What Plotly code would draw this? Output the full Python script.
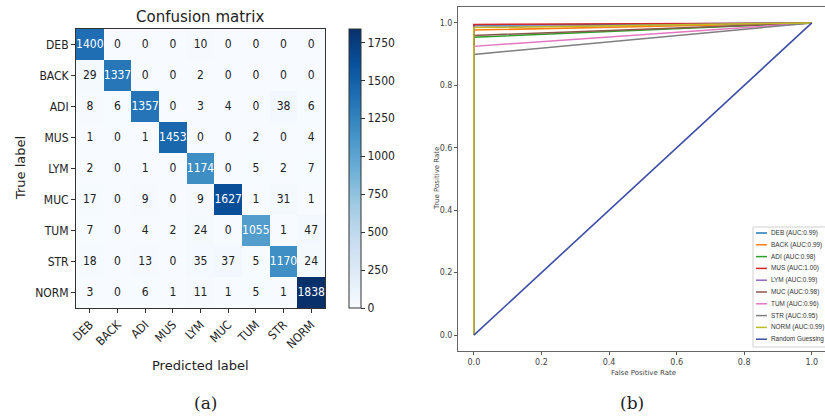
import plotly.graph_objects as go

labels = ["DEB", "BACK", "ADI", "MUS", "LYM", "MUC", "TUM", "STR", "NORM"]
cm = [
    [1400, 0, 0, 0, 10, 0, 0, 0, 0],
    [29, 1337, 0, 0, 2, 0, 0, 0, 0],
    [8, 6, 1357, 0, 3, 4, 0, 38, 6],
    [1, 0, 1, 1453, 0, 0, 2, 0, 4],
    [2, 0, 1, 0, 1174, 0, 5, 2, 7],
    [17, 0, 9, 0, 9, 1627, 1, 31, 1],
    [7, 0, 4, 2, 24, 0, 1055, 1, 47],
    [18, 0, 13, 0, 35, 37, 5, 1170, 24],
    [3, 0, 6, 1, 11, 1, 5, 1, 1838],
]
cbar_ticks = [0, 250, 500, 750, 1000, 1250, 1500, 1750]

# ROC (b): step height at FPR=0, AUC from legend
tpr_at_zero = [0.993, 0.977, 0.954, 0.995, 0.986, 0.960, 0.925, 0.899, 0.985]
auc_text = ["0.99", "0.99", "0.98", "1.00", "0.99", "0.98", "0.96", "0.95", "0.99"]
roc_colors = ["#1f77b4", "#ff7f0e", "#2ca02c", "#d62728", "#9467bd",
              "#8c564b", "#e377c2", "#7f7f7f", "#bcbd22"]
random_color = "#3d4ea6"
roc_ticks = [0.0, 0.2, 0.4, 0.6, 0.8, 1.0]

W, H = 825, 418
def px(x): return x / W
def py(y): return 1 - y / H

blues = [[0.0, "rgb(247,251,255)"], [0.125, "rgb(222,235,247)"], [0.25, "rgb(198,219,239)"],
         [0.375, "rgb(158,202,225)"], [0.5, "rgb(107,174,214)"], [0.625, "rgb(66,146,198)"],
         [0.75, "rgb(33,113,181)"], [0.875, "rgb(8,81,156)"], [1.0, "rgb(8,48,107)"]]

cmfont = "DejaVu Sans Condensed, DejaVu Sans"
zmax = max(max(r) for r in cm)
fig = go.Figure()
fig.add_trace(go.Heatmap(
    z=cm, x=labels, y=labels, colorscale=blues, zmin=0, zmax=zmax,
    xaxis="x", yaxis="y", hoverinfo="skip", showscale=True,
    colorbar=dict(x=px(349), xanchor="left", xpad=0, ypad=0, thickness=12, thicknessmode="pixels",
                  len=(308 - 29) / H, lenmode="fraction", y=(py(29) + py(308)) / 2,
                  yanchor="middle", outlinewidth=1, outlinecolor="#333",
                  tickvals=cbar_ticks, ticks="outside", ticklen=4, tickcolor="#333",
                  tickfont=dict(size=12, color="#222", family=cmfont)),
))
tx, ty, tt, tc = [], [], [], []
for i, row in enumerate(cm):
    for j, v in enumerate(row):
        tx.append(labels[j]); ty.append(labels[i]); tt.append(str(v))
        tc.append("white" if v > zmax / 2 else "#222")
fig.add_trace(go.Scatter(x=tx, y=ty, text=tt, mode="text", xaxis="x", yaxis="y",
                         textfont=dict(color=tc, size=12, family=cmfont),
                         showlegend=False, hoverinfo="skip"))

legend_names = [f"{lab} (AUC:{auc_text[k]})" for k, lab in enumerate(labels)] + ["Random Guessing"]
legend_colors = roc_colors + [random_color]

for k, lab in enumerate(labels):
    fig.add_trace(go.Scatter(x=[0, 0, 1], y=[0, tpr_at_zero[k], 1], mode="lines",
                             line=dict(color=roc_colors[k], width=1.5),
                             name=legend_names[k], xaxis="x2", yaxis="y2", showlegend=False))
fig.add_trace(go.Scatter(x=[0, 1], y=[0, 1], mode="lines", line=dict(color=random_color, width=1.6),
                         name="Random Guessing", xaxis="x2", yaxis="y2", showlegend=False))

# compact matplotlib-style legend box (layout only)
shapes = [dict(type="rect", xref="paper", yref="paper", x0=px(753), x1=px(828), y0=py(347), y1=py(227),
               line=dict(color="#d0d0d0", width=1), fillcolor="white", layer="above")]
annotations = []
for k, (nm, col) in enumerate(zip(legend_names, legend_colors)):
    yy = 233 + k * 11.8
    shapes.append(dict(type="line", xref="paper", yref="paper", x0=px(756), x1=px(767),
                       y0=py(yy), y1=py(yy), line=dict(color=col, width=1.5), layer="above"))
    annotations.append(dict(text=nm, x=px(770), y=py(yy), xref="paper", yref="paper", showarrow=False,
                            xanchor="left", yanchor="middle", borderpad=0,
                            font=dict(size=6.4, color="#333", family="Liberation Sans")))

tickfont_cm = dict(size=12, color="#222", family=cmfont)

def ann(text, x, y, size, family="DejaVu Sans", angle=0, color="#222"):
    return dict(text=text, x=px(x), y=py(y), xref="paper", yref="paper", showarrow=False,
                xanchor="center", yanchor="middle", textangle=angle,
                font=dict(size=size, color=color, family=family))

annotations += [
    ann("Confusion matrix", 200, 17, 15),
    ann("True label", 20, 168, 13, angle=-90),
    ann("Predicted label", 200, 365, 13),
    ann("(a)", 205, 403, 17, family="DejaVu Serif"),
    ann("(b)", 632, 403, 17, family="DejaVu Serif"),
    ann("True Positive Rate", 437, 179, 7, angle=-90, color="#444"),
    ann("False Positive Rate", 643, 373, 7, color="#444"),
]

fig.update_layout(
    width=W, height=H, margin=dict(l=0, r=0, t=0, b=0, autoexpand=False),
    paper_bgcolor="white", plot_bgcolor="white", showlegend=False,
    xaxis=dict(domain=[px(76), px(325)], anchor="y", tickangle=-45, ticks="outside", ticklen=4,
               tickcolor="#333", showline=True, mirror=True, linecolor="#333", linewidth=1,
               tickfont=tickfont_cm, showgrid=False, zeroline=False, automargin=False),
    yaxis=dict(domain=[py(308), py(29)], anchor="x", autorange="reversed", ticks="outside", ticklen=4,
               tickcolor="#333", showline=True, mirror=True, linecolor="#333", linewidth=1,
               tickfont=tickfont_cm, showgrid=False, zeroline=False, automargin=False),
    xaxis2=dict(domain=[px(458), 1.0], anchor="y2", range=[-0.047, 1.039], tickvals=roc_ticks,
                tickformat=".1f", ticks="outside", ticklen=3, tickcolor="#555",
                showline=True, mirror=True, linecolor="#666", linewidth=1,
                tickfont=dict(size=8, color="#444", family="DejaVu Sans"),
                showgrid=False, zeroline=False, automargin=False),
    yaxis2=dict(domain=[py(351), py(7)], anchor="x2", range=[-0.051, 1.051], tickvals=roc_ticks,
                tickformat=".1f", ticks="outside", ticklen=3, tickcolor="#555",
                showline=True, mirror=True, linecolor="#666", linewidth=1,
                tickfont=dict(size=8, color="#444", family="DejaVu Sans"),
                showgrid=False, zeroline=False, automargin=False),
    shapes=shapes,
    annotations=annotations,
)
fig.write_html("out.html", config={"displayModeBar": False},
               post_script="document.body.style.margin='0';")
